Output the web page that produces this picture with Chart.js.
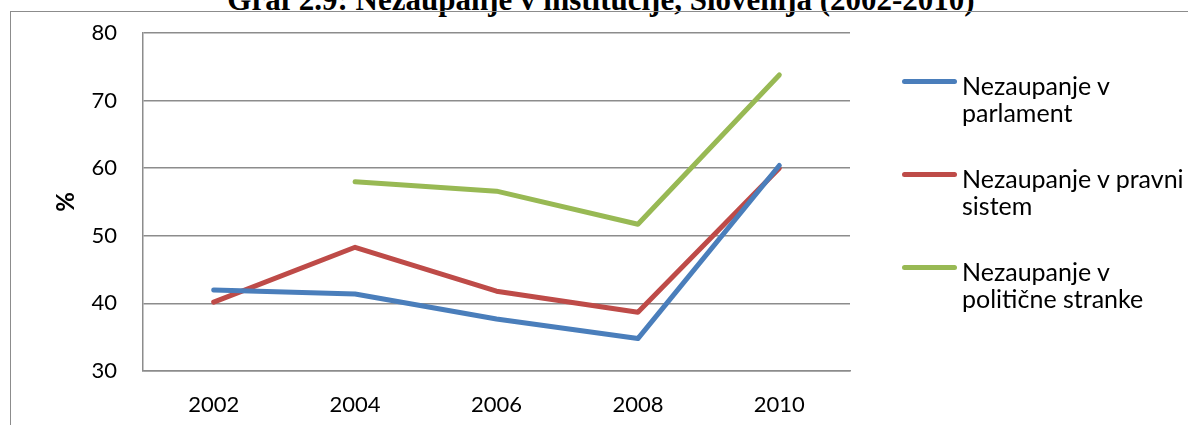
<!DOCTYPE html>
<html>
<head>
<meta charset="utf-8">
<script src="https://cdn.jsdelivr.net/npm/chart.js"></script>
<style>
  body { margin: 0; background: #fff; overflow: hidden; }
  #wrap { position: relative; width: 1188px; height: 425px; overflow: hidden; }
  #title {
    position: absolute; left: 0; top: -16px; width: 1202px; text-align: center;
    font: bold 31px/31px 'Liberation Serif', 'Times New Roman', serif; color: #000;
    white-space: nowrap;
  }
  #frame {
    position: absolute; left: 10px; top: 11px; width: 1300px; height: 500px;
    border-left: 1px solid #8c8c8c; border-top: 1px solid #8c8c8c;
  }
  #box { position: absolute; left: 0; top: 0; width: 1188px; height: 425px; }
  .item { position: absolute; left: 902px; font: 25px/27px Lato, sans-serif; color: #000; }
  .item .swatch { position: absolute; left: 0; top: 7px; width: 55px; height: 5px; border-radius: 3px; }
  .item .txt { position: absolute; left: 60px; top: 0; white-space: nowrap; }
</style>
</head>
<body>
<div id="wrap">
  <div id="title">Graf 2.9: Nezaupanje v institucije, Slovenija (2002-2010)</div>
  <div id="frame"></div>
  <div id="box"><canvas id="myChart"></canvas></div>
  <div id="legend"></div>
</div>
<script>
const years = ['2002', '2004', '2006', '2008', '2010'];
const parlament = [42.0, 41.4, 37.7, 34.8, 60.4];
const pravniSistem = [40.2, 48.3, 41.8, 38.7, 60.0];
const stranke = [null, 58.0, 56.6, 51.7, 73.8];
const yTicks = [30, 40, 50, 60, 70, 80];

const legendLines = [
  ['Nezaupanje v', 'parlament'],
  ['Nezaupanje v pravni', 'sistem'],
  ['Nezaupanje v', 'politične stranke'],
];
const colors = ['#4a7ebb', '#be4b48', '#98b954'];
const values = [parlament, pravniSistem, stranke];

const gridColor = '#8c8c8c';

const datasets = values.map((v, i) => ({
  label: legendLines[i].join(' '),
  data: v,
  borderColor: colors[i],
  backgroundColor: colors[i],
  borderWidth: 5,
  pointRadius: 0,
  tension: 0,
  borderCapStyle: 'round',
  borderJoinStyle: 'round',
  spanGaps: false,
}));

const config = {
  type: 'line',
  data: { labels: years, datasets: datasets },
  options: {
    responsive: true,
    maintainAspectRatio: false,
    animation: false,
    layout: { padding: { left: 0, top: 33, right: 338, bottom: 0 } },
    plugins: { legend: { display: false }, tooltip: { enabled: false } },
    scales: {
      x: {
        offset: true,
        grid: { color: 'transparent', drawTicks: false },
        border: { color: gridColor, width: 1.5 },
        ticks: { color: '#000', font: { family: 'Lato', size: 22 }, padding: 21, maxRotation: 0 },
        afterFit: (scale) => { scale.height = 54; },
      },
      y: {
        min: 30,
        max: 80,
        afterBuildTicks: (scale) => { scale.ticks = yTicks.map((v) => ({ value: v })); },
        grid: { color: gridColor, lineWidth: 1.5, drawTicks: false },
        border: { color: gridColor, width: 1.5 },
        ticks: { color: '#000', font: { family: 'Lato', size: 22 }, padding: 26 },
        title: {
          display: true,
          text: '%',
          color: '#000',
          font: { family: 'Lato', size: 24, weight: 'bold' },
          padding: { top: 52, bottom: 0 },
        },
        afterFit: (scale) => {
          scale.width = 143;
          // tick padding would otherwise push the plot top down
          scale.paddingTop = 0;
          scale.paddingBottom = 0;
        },
      },
    },
  },
};

const myChart = new Chart(document.getElementById('myChart'), config);

// legend with two text lines per item, like the original
const legend = document.getElementById('legend');
const itemTops = [72, 165, 258];
for (let i = 0; i < legendLines.length; i++) {
  const item = document.createElement('div');
  item.className = 'item';
  item.style.top = itemTops[i] + 'px';
  const sw = document.createElement('span');
  sw.className = 'swatch';
  sw.style.background = colors[i];
  const txt = document.createElement('div');
  txt.className = 'txt';
  txt.innerHTML = legendLines[i].join('<br>');
  item.appendChild(sw);
  item.appendChild(txt);
  legend.appendChild(item);
}
</script>
</body>
</html>
